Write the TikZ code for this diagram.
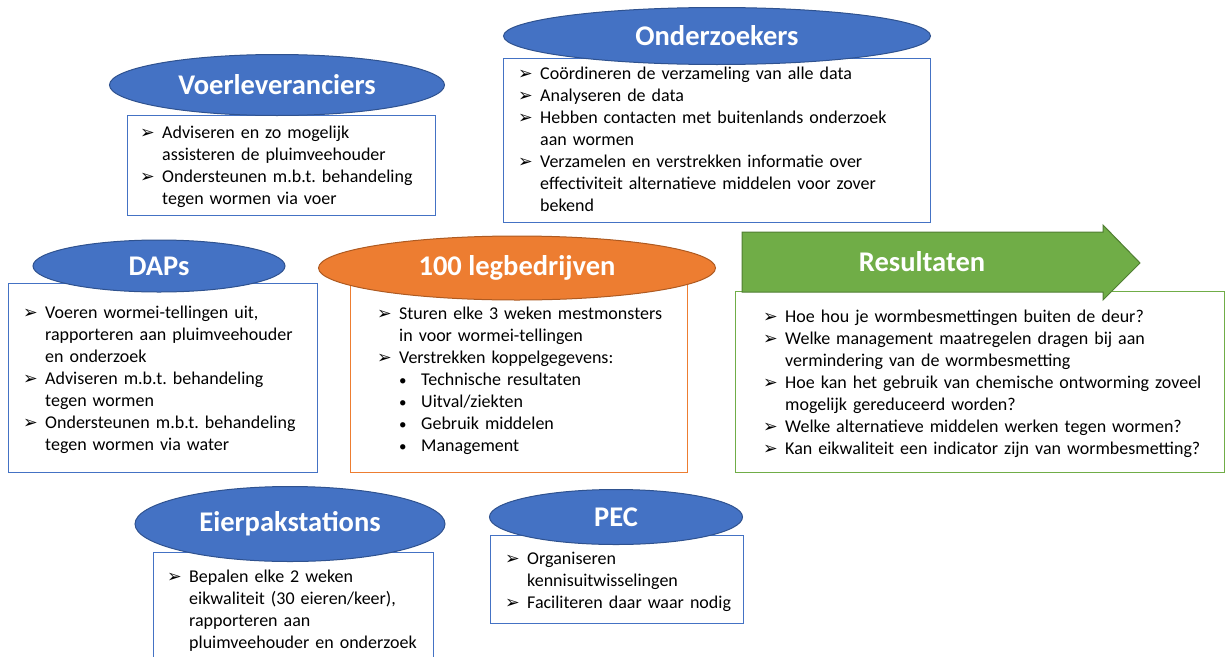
\documentclass[tikz,border=0pt]{standalone}
\usepackage{fontspec}
\setmainfont{Carlito}
\newfontfamily\dingfont{DejaVu Sans}
\definecolor{theme}{HTML}{4472C4}
\definecolor{themedark}{HTML}{2F528F}
\definecolor{themeorange}{HTML}{ED7D31}
\definecolor{themeorangedark}{HTML}{AE5A21}
\definecolor{themegreen}{HTML}{70AD47}
\definecolor{themegreendark}{HTML}{507E32}
\usepackage{tikz}
\usetikzlibrary{shapes}

% bullet, sub-bullet and hanging indent
\newcommand{\ar}{\makebox[22pt][l]{\dingfont\fontsize{17.5}{17.5}\selectfont ➢}}
\newcommand{\dt}{\hspace*{22pt}\makebox[22pt][l]{\fontsize{15}{15}\selectfont •}}
\newcommand{\ind}{\hspace*{22pt}}

\begin{document}
\begin{tikzpicture}[x=1pt,y=-1pt,
    title/.style={ellipse, fill=theme, draw=themedark, line width=1pt, text=white,
      inner sep=0pt, font=\fontsize{28.5}{30}\selectfont\bfseries},
    card/.style={draw=theme, line width=1.2pt, anchor=north west, inner sep=0pt},
    txt/.style={anchor=base west, inner sep=0pt, text width=450pt, align=left,
      font=\fontsize{18}{22}\selectfont\frenchspacing}]
      \useasboundingbox (0,0) rectangle (1225,656);

      % boxes
      \node[card, minimum width=308pt, minimum height=100pt] (voerbox) at (127,115) {};
      \node[card, minimum width=427pt, minimum height=164pt] (onderzbox) at (503,58) {};
      \node[card, minimum width=309pt, minimum height=189pt] (dapsbox) at (8,283) {};
      \node[card, draw=themeorange, minimum width=337pt, minimum height=189pt] (legbox) at (350,283) {};
      \node[card, draw=themegreen, minimum width=489pt, minimum height=181pt] (resbox) at (735,291) {};
      \node[card, minimum width=280pt, minimum height=110pt] (eierbox) at (153,552) {};
      \node[card, minimum width=253pt, minimum height=88pt] (pecbox) at (490,535) {};

      % texts
      \node[txt] (voertxt) at (140,138) {\ar Adviseren en zo mogelijk\\
        \ind assisteren de pluimveehouder\\
        \ar Ondersteunen m.b.t. behandeling\\
        \ind tegen wormen via voer};
      \node[txt] (onderztxt) at (518,79) {\ar Coördineren de verzameling van alle data\\
        \ar Analyseren de data\\
        \ar Hebben contacten met buitenlands onderzoek\\
        \ind aan wormen\\
        \ar Verzamelen en verstrekken informatie over\\
        \ind effectiviteit alternatieve middelen voor zover\\
        \ind bekend};
      \node[txt] (dapstxt) at (23,318) {\ar Voeren wormei-tellingen uit,\\
        \ind rapporteren aan pluimveehouder\\
        \ind en onderzoek\\
        \ar Adviseren m.b.t. behandeling\\
        \ind tegen wormen\\
        \ar Ondersteunen m.b.t. behandeling\\
        \ind tegen wormen via water};
      \node[txt] (legtxt) at (377,319) {\ar Sturen elke 3 weken mestmonsters\\
        \ind in voor wormei-tellingen\\
        \ar Verstrekken koppelgegevens:\\
        \dt Technische resultaten\\
        \dt Uitval/ziekten\\
        \dt Gebruik middelen\\
        \dt Management};
      \node[txt] (restxt) at (763,322) {\ar Hoe hou je wormbesmettingen buiten de deur?\\
        \ar Welke management maatregelen dragen bij aan\\
        \ind vermindering van de wormbesmetting\\
        \ar Hoe kan het gebruik van chemische ontworming zoveel\\
        \ind mogelijk gereduceerd worden?\\
        \ar Welke alternatieve middelen werken tegen wormen?\\
        \ar Kan eikwaliteit een indicator zijn van wormbesmetting?};
      \node[txt] (eiertxt) at (167,582) {\ar Bepalen elke 2 weken\\
        \ind eikwaliteit (30 eieren/keer),\\
        \ind rapporteren aan\\
        \ind pluimveehouder en onderzoek};
      \node[txt] (pectxt) at (505,564) {\ar Organiseren\\
        \ind kennisuitwisselingen\\
        \ar Faciliteren daar waar nodig};

      % titles
      \node[title, minimum width=335pt, minimum height=61pt] (voer) at (277,85) {Voerleveranciers};
      \node[title, minimum width=427pt, minimum height=57pt] (onderz) at (717,36) {Onderzoekers};
      \node[title, minimum width=252pt, minimum height=52pt] (daps) at (159,266) {DAPs};
      \node[title, fill=themeorange, draw=themeorangedark, minimum width=397pt, minimum height=64pt] (leg) at (517,268) {100 legbedrijven};
      \node[title, minimum width=310pt, minimum height=75pt] (eier) at (290,524) {Eierpakstations};
      \node[title, minimum width=253pt, minimum height=55pt] (pec) at (616,517) {PEC};
      \draw[fill=themegreen, draw=themegreendark, line width=1pt]
        (742,232) -- (1103,232) -- (1103,225) -- (1140,263) -- (1103,300) -- (1103,292) -- (742,292) -- cycle;
      \node[text=white, font=\fontsize{28.5}{30}\selectfont\bfseries] (res) at (922,262) {Resultaten};
\end{tikzpicture}
\end{document}
